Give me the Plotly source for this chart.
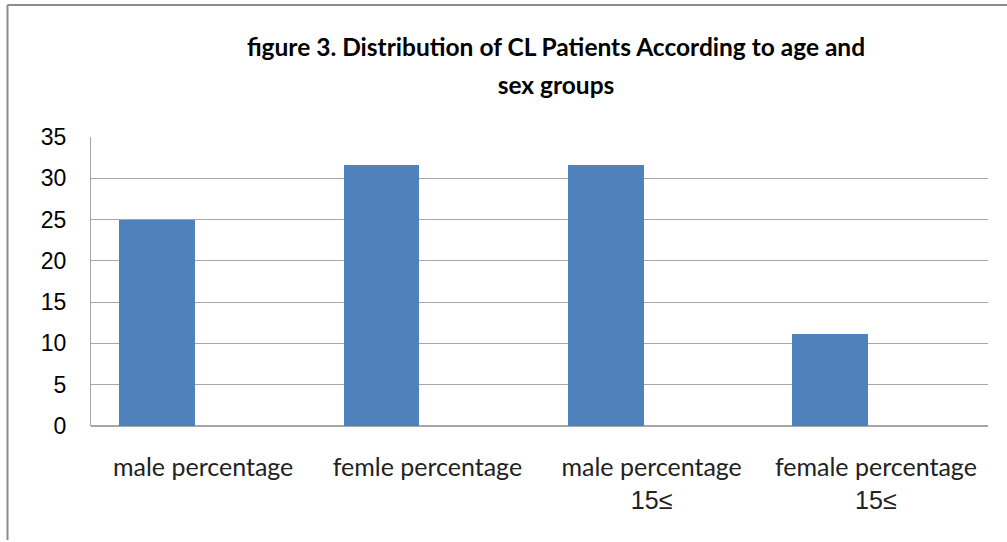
import plotly.graph_objects as go

# data
categories = [
    "male percentage",
    "femle percentage",
    "male percentage<br><span style='font-family:Liberation Sans'>15≤</span>",
    "female percentage<br><span style='font-family:Liberation Sans'>15≤</span>",
]
percent = [25, 31.6, 31.6, 11.1]

title_lines = [
    "figure 3. Distribution of CL Patients According to age and",
    "sex groups",
]

W, H = 1007, 542
L, R, T, B = 91, 19, 137, 116
pw, ph = W - L - R, H - T - B

# outer font size sets the line spacing, inner span sets glyph size
title_text = "<br>".join(
    f"<span style='font-size:24.5px'>{s}</span>" for s in title_lines
)

fig = go.Figure()
fig.add_trace(go.Bar(
    x=categories,
    y=percent,
    width=0.337,
    offset=-0.373,
    marker=dict(color="#4F81BD", line=dict(width=0)),
    showlegend=False,
))

fig.update_layout(
    width=W,
    height=H,
    margin=dict(l=L, r=R, t=T, b=B),
    plot_bgcolor="white",
    paper_bgcolor="white",
    title=dict(
        text=title_text,
        x=556 / W,
        xanchor="center",
        y=1 - 56 / H,
        yanchor="middle",
        font=dict(family="Lato", size=29, color="black", weight="bold"),
    ),
    bargap=0,
)

fig.update_xaxes(
    range=[-0.5, 3.5],
    showgrid=False,
    showline=False,
    ticks="",
    ticklabelstandoff=24,
    tickfont=dict(family="Lato", size=25, color="#222222"),
)
fig.update_yaxes(
    range=[0, 35],
    dtick=5,
    showgrid=True,
    gridcolor="#a6a6a6",
    gridwidth=1,
    zeroline=True,
    zerolinecolor="#a6a6a6",
    showline=True,
    linecolor="#a6a6a6",
    ticks="",
    ticklabelstandoff=19,
    tickfont=dict(family="Liberation Sans", size=23, color="black"),
)

# outer chart border (top and left edges visible in the crop)
bx = (7.5 - L) / pw
by = (H - B - 5) / ph
fig.add_shape(type="line", xref="paper", yref="paper",
              x0=bx, x1=(W - L) / pw + 0.01, y0=by, y1=by,
              line=dict(color="#8c8c8c", width=2))
fig.add_shape(type="line", xref="paper", yref="paper",
              x0=bx, x1=bx, y0=by, y1=(H - B - 540) / ph,
              line=dict(color="#8c8c8c", width=2))

fig.write_html(
    "out.html",
    config={"displayModeBar": False},
    post_script="document.body.style.margin='0';",
)
